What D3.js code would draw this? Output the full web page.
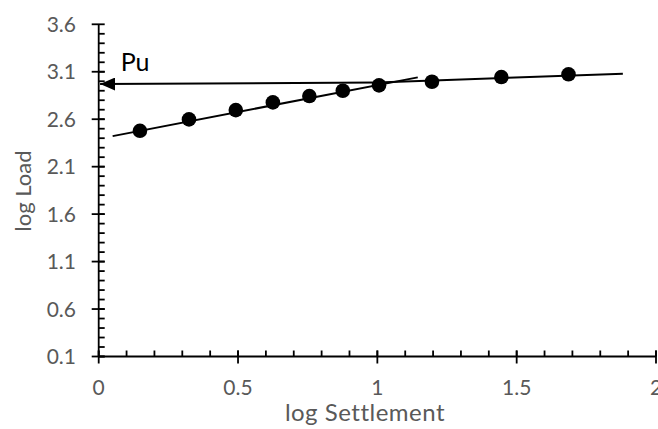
<!DOCTYPE html>
<html>
<head>
<meta charset="utf-8">
<script src="https://cdn.jsdelivr.net/npm/d3@7"></script>
<style>
    body { margin: 0; background: #fff; }
    #chart-container { width: 658px; height: 429px; }
    text { font-family: Lato, "Open Sans", sans-serif; }
</style>
</head>
<body>
<div id="chart-container"></div>
<script>
// data
const logSettlement = [0.148, 0.324, 0.492, 0.625, 0.756, 0.876, 1.006, 1.196, 1.445, 1.686];
const logLoad = [2.478, 2.598, 2.696, 2.777, 2.844, 2.900, 2.957, 2.995, 3.044, 3.073];

// hand drawn trend lines and the Pu arrow (start, end)
const trendSteep = [[0.05, 2.422], [1.145, 3.041]];
const trendFlat = [[1.0, 2.988], [1.881, 3.079]];
const puArrow = [[1.0, 2.988], [0.005, 2.970]];
const puLabel = {x: 0.079, y: 3.11, text: "Pu"};

const xTicks = [0, 0.5, 1, 1.5, 2];
const yTicks = [0.1, 0.6, 1.1, 1.6, 2.1, 2.6, 3.1, 3.6];

const width = 658, height = 429;

const svg = d3.select("#chart-container")
    .append("svg")
    .attr("width", width)
    .attr("height", height);

// scales
const x = d3.scaleLinear().domain([0, 2]).range([98.7, 656]);
const y = d3.scaleLinear().domain([0.1, 3.6]).range([356.5, 24.3]);

// arrow head
svg.append("defs").append("marker")
    .attr("id", "arrow")
    .attr("viewBox", "0 0 15 13")
    .attr("refX", 15)
    .attr("refY", 6.5)
    .attr("markerWidth", 15)
    .attr("markerHeight", 13)
    .attr("markerUnits", "userSpaceOnUse")
    .attr("orient", "auto")
    .append("path")
    .attr("d", "M0,0 L15,6.5 L0,13 Z")
    .attr("fill", "#000");

// minor ticks every 0.1 (inside), major ticks crossing
const yMinor = d3.range(1, 36).map(i => +(i / 10).toFixed(1));
const xMinor = d3.range(0, 21).map(i => +(i / 10).toFixed(1));

const axes = svg.append("g").attr("stroke", "#000").attr("stroke-width", 1.8);

axes.selectAll(".ymin").data(yMinor).join("line")
    .attr("x1", x(0)).attr("x2", x(0) + 6)
    .attr("y1", d => y(d)).attr("y2", d => y(d));
axes.selectAll(".ymaj").data(yTicks).join("line")
    .attr("x1", x(0) - 7).attr("x2", x(0) + 6)
    .attr("y1", d => y(d)).attr("y2", d => y(d));
axes.selectAll(".xmin").data(xMinor).join("line")
    .attr("x1", d => x(d)).attr("x2", d => x(d))
    .attr("y1", y(0.1) - 6).attr("y2", y(0.1));
axes.selectAll(".xmaj").data(xTicks).join("line")
    .attr("x1", d => x(d)).attr("x2", d => x(d))
    .attr("y1", y(0.1) - 6).attr("y2", y(0.1) + 7);

// axis lines
axes.append("line")
    .attr("x1", x(0)).attr("x2", x(0))
    .attr("y1", y(3.6)).attr("y2", y(0.1));
axes.append("line")
    .attr("x1", x(0)).attr("x2", x(2))
    .attr("y1", y(0.1)).attr("y2", y(0.1));

// tick labels
svg.selectAll(".ylab").data(yTicks).join("text")
    .attr("x", 76)
    .attr("y", d => y(d))
    .attr("dy", "0.36em")
    .attr("text-anchor", "end")
    .attr("fill", "#595959")
    .style("font-size", "21px")
    .text(d => d3.format(".1f")(d));

svg.selectAll(".xlab").data(xTicks).join("text")
    .attr("x", d => x(d))
    .attr("y", 395)
    .attr("text-anchor", "middle")
    .attr("fill", "#595959")
    .style("font-size", "21px")
    .text(d => d);

// axis titles
svg.append("text")
    .attr("x", 365)
    .attr("y", 421)
    .attr("text-anchor", "middle")
    .attr("fill", "#595959")
    .style("font-size", "24px")
    .style("letter-spacing", "0.5px")
    .text("log Settlement");

svg.append("text")
    .attr("transform", "translate(31,191) rotate(-90)")
    .attr("text-anchor", "middle")
    .attr("fill", "#595959")
    .style("font-size", "22px")
    .text("log Load");

// lines
const line = d3.line().x(d => x(d[0])).y(d => y(d[1]));

[trendSteep, trendFlat].forEach(seg => {
    svg.append("path")
        .attr("d", line(seg))
        .attr("fill", "none")
        .attr("stroke", "#000")
        .attr("stroke-width", 2);
});

svg.append("path")
    .attr("d", line(puArrow))
    .attr("fill", "none")
    .attr("stroke", "#000")
    .attr("stroke-width", 2)
    .attr("marker-end", "url(#arrow)");

svg.append("text")
    .attr("x", x(puLabel.x))
    .attr("y", y(puLabel.y))
    .attr("fill", "#000")
    .style("font-size", "25px")
    .text(puLabel.text);

// points
svg.selectAll(".pt").data(logSettlement).join("circle")
    .attr("cx", d => x(d))
    .attr("cy", (d, i) => y(logLoad[i]))
    .attr("r", 7.3)
    .attr("fill", "#000");
</script>
</body>
</html>
